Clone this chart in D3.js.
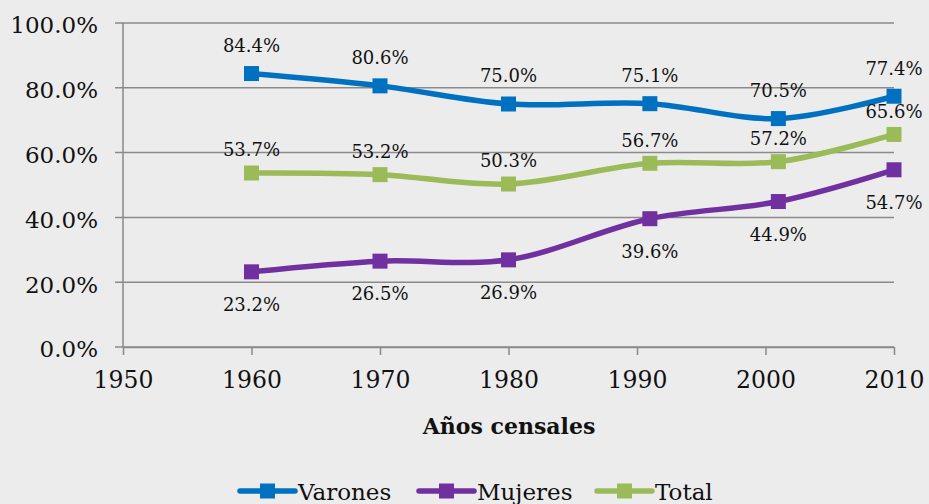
<!DOCTYPE html>
<html>
<head>
<meta charset="utf-8">
<script src="https://cdn.jsdelivr.net/npm/d3@7/dist/d3.min.js"></script>
<style>
  body { margin: 0; background: #ececec; }
  #chart { width: 929px; height: 504px; }
  text { font-family: "DejaVu Serif", serif; fill: #111; }
</style>
</head>
<body>
<div id="chart"></div>
<script>
// data
const years = [1960, 1970, 1980, 1991, 2001, 2010];
const varones = [84.4, 80.6, 75.0, 75.1, 70.5, 77.4];
const mujeres = [23.2, 26.5, 26.9, 39.6, 44.9, 54.7];
const total = [53.7, 53.2, 50.3, 56.7, 57.2, 65.6];
const yTicks = [0, 20, 40, 60, 80, 100];
const xTicks = [1950, 1960, 1970, 1980, 1990, 2000, 2010];

const series = [
  { name: "Varones", values: varones, color: "#0070c0", labelDy: -28 },
  { name: "Mujeres", values: mujeres, color: "#7030a0", labelDy: 33 },
  { name: "Total", values: total, color: "#9bbb59", labelDy: -23 }
];

function chart(params) {
  const container = d3.select(params.container);
  const width = 929;
  const height = 504;
  const marginLeft = 123;
  const marginRight = 35;
  const marginTop = 23;
  const chartBottom = 347;

  const svg = container.append("svg")
    .attr("width", width)
    .attr("height", height);

  svg.append("rect").attr("width", width).attr("height", height).attr("fill", "#ececec");

  const xScale = d3.scaleLinear().domain([1950, 2010]).range([marginLeft, width - marginRight]);
  const yScale = d3.scaleLinear().domain([0, 100]).range([chartBottom, marginTop]);

  // gridlines + y ticks
  const gy = svg.append("g").attr("class", "grid");
  gy.selectAll("line")
    .data(yTicks)
    .join("line")
    .attr("x1", marginLeft - 8)
    .attr("x2", xScale(2010))
    .attr("y1", d => yScale(d))
    .attr("y2", d => yScale(d))
    .attr("stroke", "#8a8a8a")
    .attr("stroke-width", 1.5);

  gy.selectAll("text")
    .data(yTicks)
    .join("text")
    .attr("x", 98)
    .attr("y", d => yScale(d))
    .attr("dy", "0.45em")
    .attr("text-anchor", "end")
    .style("font-size", "23px")
    .text(d => d.toFixed(1) + "%");

  // y axis line
  svg.append("line")
    .attr("x1", marginLeft).attr("x2", marginLeft)
    .attr("y1", yScale(100)).attr("y2", chartBottom)
    .attr("stroke", "#8a8a8a").attr("stroke-width", 1.5);

  // x axis
  const xaxis = d3.axisBottom(xScale)
    .tickValues(xTicks)
    .tickFormat(d3.format("d"))
    .tickSize(8)
    .tickSizeOuter(0)
    .tickPadding(16);

  const gx = svg.append("g")
    .attr("transform", `translate(0, ${chartBottom})`)
    .call(xaxis);
  gx.select(".domain").attr("stroke", "#8a8a8a").attr("stroke-width", 1.5);
  gx.selectAll(".tick line").attr("stroke", "#8a8a8a").attr("stroke-width", 1.5);
  gx.selectAll(".tick text")
    .style("font-size", "23.5px")
    .style("font-family", "DejaVu Serif, serif")
    .attr("fill", "#111");

  // axis title
  svg.append("text")
    .attr("x", 509)
    .attr("y", 426)
    .attr("dy", "0.35em")
    .attr("text-anchor", "middle")
    .style("font-size", "22px")
    .style("font-weight", "bold")
    .text("Años censales");

  // lines
  const line = d3.line()
    .x((d, i) => xScale(years[i]))
    .y(d => yScale(d))
    .curve(d3.curveCatmullRom.alpha(0.5));

  const plot = svg.append("g").attr("class", "chart");

  series.forEach(s => {
    const g = plot.append("g");
    g.append("path")
      .datum(s.values)
      .attr("d", line)
      .attr("fill", "none")
      .attr("stroke", s.color)
      .attr("stroke-width", 5.5)
      .attr("stroke-linecap", "round");
    g.selectAll("rect")
      .data(s.values)
      .join("rect")
      .attr("x", (d, i) => xScale(years[i]) - 7.5)
      .attr("y", d => yScale(d) - 7.5)
      .attr("width", 15)
      .attr("height", 15)
      .attr("fill", s.color);
  });

  series.forEach(s => {
    plot.append("g").selectAll("text")
      .data(s.values)
      .join("text")
      .attr("x", (d, i) => xScale(years[i]))
      .attr("y", d => yScale(d) + s.labelDy)
      .attr("dy", "0.35em")
      .attr("text-anchor", "middle")
      .style("font-size", "18px")
      .text(d => d.toFixed(1) + "%");
  });

  // legend
  const legendItems = [
    { s: series[0], x: 240 },
    { s: series[1], x: 419 },
    { s: series[2], x: 597 }
  ];
  const ly = 491;
  const legend = svg.append("g").attr("class", "legend");
  legendItems.forEach(it => {
    const g = legend.append("g");
    g.append("line")
      .attr("x1", it.x).attr("x2", it.x + 55)
      .attr("y1", ly).attr("y2", ly)
      .attr("stroke", it.s.color).attr("stroke-width", 5.5)
      .attr("stroke-linecap", "round");
    g.append("rect")
      .attr("x", it.x + 20).attr("y", ly - 7.5)
      .attr("width", 15).attr("height", 15)
      .attr("fill", it.s.color);
    g.append("text")
      .attr("x", it.x + 58)
      .attr("y", ly)
      .attr("dy", "0.38em")
      .style("font-size", "23px")
      .text(it.s.name);
  });
}

chart({ container: "#chart" });
</script>
</body>
</html>
